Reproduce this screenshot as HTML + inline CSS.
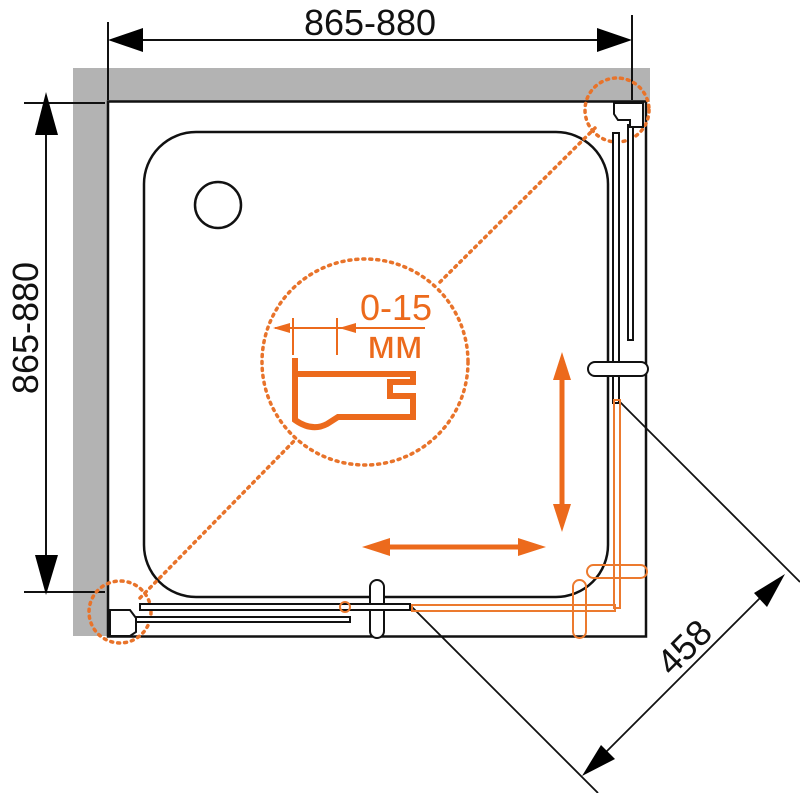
<!DOCTYPE html>
<html><head><meta charset="utf-8"><style>html,body{margin:0;padding:0;background:#fff}svg{display:block}</style></head>
<body>
<svg width="800" height="793" viewBox="0 0 800 793" xmlns="http://www.w3.org/2000/svg" font-family="Liberation Sans, sans-serif">
<rect x="73" y="68" width="577" height="34" fill="#b3b3b3"/>
<rect x="73" y="68" width="35" height="568" fill="#b3b3b3"/>
<rect x="108" y="101.5" width="538" height="535" fill="#fff" stroke="#111" stroke-width="2.5"/>
<rect x="144" y="132" width="464" height="465" rx="52" fill="none" stroke="#111" stroke-width="2.5"/>
<circle cx="218" cy="205" r="23" fill="none" stroke="#111" stroke-width="2.5"/>
<g stroke="#111" stroke-width="2">
<line x1="108" y1="22" x2="108" y2="100"/>
<line x1="632" y1="15" x2="632" y2="100"/>
<line x1="140" y1="40" x2="600" y2="40"/>
<line x1="24" y1="103" x2="105" y2="103"/>
<line x1="24" y1="592" x2="105" y2="592"/>
<line x1="46" y1="125" x2="46" y2="560"/>
</g>
<polygon points="108,40 143,28 143,52" fill="#000"/>
<polygon points="632,40 597,28 597,52" fill="#000"/>
<polygon points="46,92 35,135 58,135" fill="#000"/>
<polygon points="46,595 35,555 58,555" fill="#000"/>
<text x="370" y="35" font-size="36" text-anchor="middle" fill="#111">865-880</text>
<text transform="translate(38,328) rotate(-90)" font-size="36" text-anchor="middle" fill="#111">865-880</text>
<g stroke="#111" stroke-width="1.8">
<line x1="616" y1="398" x2="800" y2="582"/>
<line x1="410" y1="605" x2="598" y2="793"/>
<line x1="770" y1="588" x2="600" y2="758"/>
</g>
<polygon points="785,574 754,593 767,607" fill="#000"/>
<polygon points="582,776 601,745 615,759" fill="#000"/>
<text transform="translate(693,656) rotate(-45)" font-size="36" text-anchor="middle" fill="#111">458</text>
<g fill="none" stroke="#e8732a" stroke-width="3.5" stroke-dasharray="2 5" stroke-linecap="round">
<line x1="140" y1="598" x2="295" y2="440"/>
<line x1="440" y1="282" x2="595" y2="128"/>
<circle cx="365" cy="362" r="103"/>
<circle cx="617" cy="110" r="32"/>
<circle cx="120" cy="612" r="31"/>
</g>
<g stroke="#ec6a1c" fill="none" stroke-width="2">
<line x1="275" y1="328" x2="425" y2="328"/>
<line x1="293" y1="318" x2="293" y2="355"/>
<line x1="337" y1="318" x2="337" y2="355"/>
</g>
<polygon points="273,328 290,323 290,333" fill="#ec6a1c"/>
<polygon points="339,328 356,323 356,333" fill="#ec6a1c"/>
<text x="396" y="320" font-size="36" text-anchor="middle" fill="#ec6a1c">0-15</text>
<text x="395" y="358" font-size="40" text-anchor="middle" fill="#ec6a1c">мм</text>
<path d="M295,358 L295,420 Q312,432 327,424 L338,417 L413,417 L413,396 L390,396 L390,382 L413,382 L413,374 L338,374 M295,374 L338,374" fill="none" stroke="#ec6a1c" stroke-width="6"/>
<line x1="562" y1="372" x2="562" y2="510" stroke="#ec6a1c" stroke-width="5"/>
<polygon points="562,352 553,380 571,380" fill="#ec6a1c"/>
<polygon points="562,532 553,504 571,504" fill="#ec6a1c"/>
<line x1="382" y1="547" x2="525" y2="547" stroke="#ec6a1c" stroke-width="5"/>
<polygon points="362,547 390,538 390,556" fill="#ec6a1c"/>
<polygon points="546,547 518,538 518,556" fill="#ec6a1c"/>
<g fill="#fff" stroke="#111" stroke-width="2">
<rect x="613" y="133" width="6" height="270"/>
<rect x="628" y="125" width="5" height="215"/>
<path d="M614,103 L643,103 L643,127 L630,127 L630,120 L618,120 L614,114 Z"/>
<rect x="588" y="362" width="60" height="14" rx="7"/>
<rect x="370" y="580" width="14" height="58" rx="7"/>
<rect x="140" y="604" width="270" height="6"/>
<rect x="125" y="617" width="225" height="5"/>
<path d="M110,610 L130,610 L136,618 L136,632 L130,636 L110,636 Z"/>
</g>
<g fill="none" stroke="#ec7a2e" stroke-width="2">
<rect x="412" y="605" width="203" height="6"/>
<rect x="614" y="400" width="6" height="208"/>
<rect x="573" y="580" width="13" height="58" rx="6.5"/>
<rect x="587" y="565" width="60" height="13" rx="6.5"/>
<circle cx="345" cy="607" r="5"/>
</g>
</svg>
</body></html>
